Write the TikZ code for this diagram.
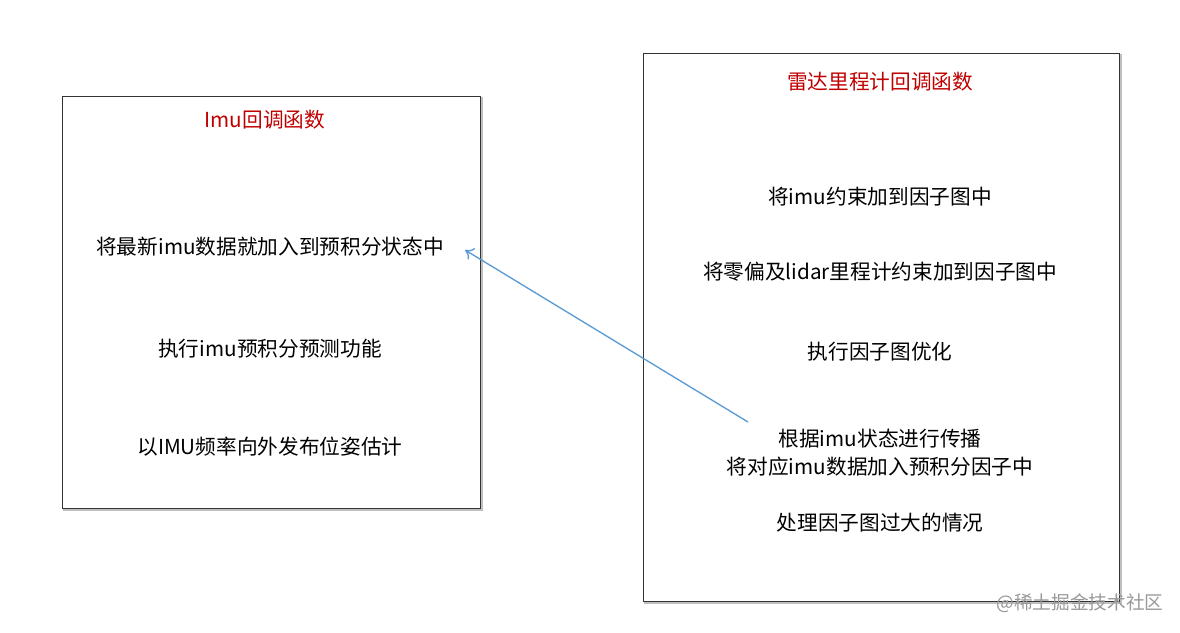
\documentclass[tikz,border=0pt]{standalone}
\usepackage{fontspec}
\usetikzlibrary{arrows.meta}
\setmainfont{Noto Sans CJK SC}
\begin{document}
\begin{tikzpicture}[x=0.75pt,y=-0.75pt,
  box/.style={draw=black!80,line width=0.6pt},
  shade/.style={draw=black!25,line width=1.5pt},
  txt/.style={font=\fontsize{15.5}{21}\selectfont,anchor=center,align=center},
  ttl/.style={txt,text={rgb,255:red,192;green,0;blue,0}}]
\useasboundingbox (0,0) rectangle (1180,632);
\fill[white] (0,0) rectangle (1180,632);
\draw[shade] (64,98) rectangle (482,510);
\draw[box,fill=white] (62,96) rectangle (480,508);
\draw[shade] (645,55) rectangle (1121,603);
\draw[box,fill=white] (643,53) rectangle (1119,601);
\node[ttl] (lt) at (265,120) {Imu回调函数};
\node[txt] (l1) at (270,247) {将最新imu数据就加入到预积分状态中};
\node[txt] (l2) at (270,349) {执行imu预积分预测功能};
\node[txt] (l3) at (270,447) {以IMU频率向外发布位姿估计};
\node[ttl] (rt) at (880,82) {雷达里程计回调函数};
\node[txt] (r1) at (880,197) {将imu约束加到因子图中};
\node[txt] (r2) at (880,272) {将零偏及lidar里程计约束加到因子图中};
\node[txt] (r3) at (880,352) {执行因子图优化};
\node[txt] (r4) at (880,453) {根据imu状态进行传播\\将对应imu数据加入预积分因子中};
\node[txt] (r5) at (880,523) {处理因子图过大的情况};
\node[font=\fontsize{14}{16}\selectfont,text=black!40] (wm) at (1080,603) {@稀土掘金技术社区};
\coordinate (s) at (748,422);
\coordinate (e) at (465,250);
\draw[-{To[length=6pt,width=10pt]},line width=1pt,draw={rgb,255:red,91;green,155;blue,213}] (s) -- (e);
\end{tikzpicture}
\end{document}
